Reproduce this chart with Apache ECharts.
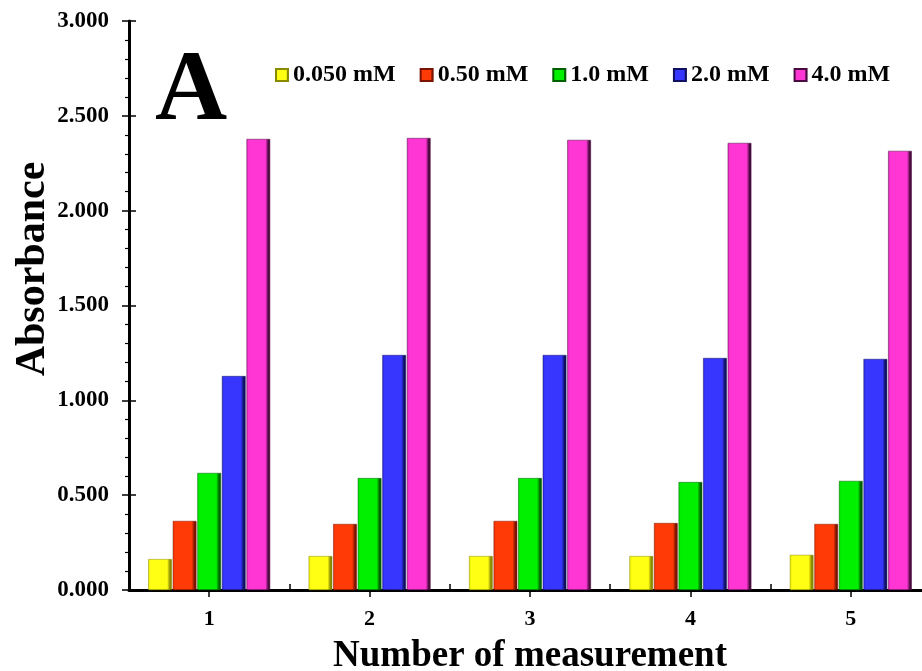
<!DOCTYPE html>
<html>
<head>
<meta charset="utf-8">
<script src="https://cdn.jsdelivr.net/npm/echarts@6/dist/echarts.min.js"></script>
<style>
html,body{margin:0;padding:0;background:#fff;}
#chart{width:922px;height:671px;}
</style>
</head>
<body>
<div id="chart"></div>
<script>
// ---- data ----
var categories = ['1', '2', '3', '4', '5'];
var seriesNames = ['0.050 mM', '0.50 mM', '1.0 mM', '2.0 mM', '4.0 mM'];
var conc0050 = [0.163, 0.179, 0.179, 0.179, 0.185];
var conc050  = [0.364, 0.348, 0.364, 0.353, 0.348];
var conc10   = [0.617, 0.590, 0.590, 0.569, 0.575];
var conc20   = [1.128, 1.239, 1.239, 1.223, 1.218];
var conc40   = [2.378, 2.383, 2.373, 2.357, 2.315];
var seriesValues = [conc0050, conc050, conc10, conc20, conc40];
var yTicks = [0, 0.5, 1.0, 1.5, 2.0, 2.5, 3.0];

// ---- styles ----
var baseColors = ['#ffff14', '#ff3a06', '#00f000', '#3636ff', '#ff36d4'];
var darkColors = ['#8a8a00', '#7a1400', '#006000', '#101060', '#4a0a40'];
var lightColors = ['#e8e800', '#e83000', '#00d800', '#2a2ae0', '#e02cbc'];
var FONT = '"Liberation Serif", "Times New Roman", serif';

function grad(i) {
  return new echarts.graphic.LinearGradient(0, 0, 1, 0, [
    {offset: 0, color: lightColors[i]},
    {offset: 0.1, color: baseColors[i]},
    {offset: 0.8, color: baseColors[i]},
    {offset: 0.92, color: darkColors[i]},
    {offset: 1, color: darkColors[i]}
  ]);
}

var chart = echarts.init(document.getElementById('chart'), null, {renderer: 'canvas'});

var series = seriesNames.map(function (name, i) {
  return {
    name: name,
    type: 'bar',
    xAxisIndex: 0,
    yAxisIndex: 0,
    data: seriesValues[i],
    barGap: '4%',
    barCategoryGap: '24%',
    itemStyle: {color: grad(i), borderColor: darkColors[i], borderWidth: 0.5},
    emphasis: {disabled: true}
  };
});

var option = {
  animation: false,
  backgroundColor: '#ffffff',
  title: {
    text: 'A',
    left: 155,
    top: 43,
    padding: 0,
    textStyle: {fontFamily: FONT, fontWeight: 'bold', fontSize: 100, color: '#000'}
  },
  legend: {
    data: seriesNames,
    left: 275,
    top: 63,
    padding: 0,
    itemWidth: 12,
    itemHeight: 12,
    itemGap: 24,
    icon: 'rect',
    textStyle: {fontFamily: FONT, fontWeight: 'bold', fontSize: 24, color: '#000'},
    selectedMode: false
  },
  graphic: [{
    type: 'text',
    x: 12,
    y: 269,
    rotation: Math.PI / 2,
    style: {
      text: 'Absorbance',
      fontFamily: FONT,
      fontWeight: 'bold',
      fontSize: 42,
      fill: '#000',
      align: 'center',
      verticalAlign: 'top'
    }
  }],
  grid: {left: 129, top: 21, bottom: 81, right: -9, containLabel: false, outerBoundsMode: 'none'},
  xAxis: [{
    type: 'category',
    data: categories,
    position: 'bottom',
    axisLine: {show: true, lineStyle: {color: '#000', width: 3}},
    axisTick: {show: true, alignWithLabel: true, inside: false, length: 7, lineStyle: {color: '#000', width: 1.5}},
    axisLabel: {fontFamily: FONT, fontWeight: 'bold', fontSize: 22, color: '#000', margin: 18},
    name: 'Number of measurement',
    nameLocation: 'middle',
    nameGap: 48,
    nameTextStyle: {fontFamily: FONT, fontWeight: 'bold', fontSize: 37, color: '#000'},
    splitLine: {show: false}
  }, {
    type: 'category',
    data: categories,
    position: 'bottom',
    axisLine: {show: false},
    axisTick: {show: true, inside: true, length: 6, lineStyle: {color: '#000', width: 1.5}},
    axisLabel: {show: false},
    splitLine: {show: false}
  }],
  yAxis: [{
    type: 'value',
    min: yTicks[0],
    max: yTicks[yTicks.length - 1],
    interval: 0.5,
    position: 'left',
    axisLine: {show: true, lineStyle: {color: '#000', width: 3}},
    axisTick: {show: true, inside: false, length: 7, lineStyle: {color: '#000', width: 1.5}},
    minorTick: {show: true, splitNumber: 5, length: 4, lineStyle: {color: '#000', width: 1.2}},
    axisLabel: {fontFamily: FONT, fontWeight: 'bold', fontSize: 23, color: '#000', margin: 20,
      formatter: function (v) { return v.toFixed(3); }},
    splitLine: {show: false}
  }, {
    type: 'value',
    min: yTicks[0],
    max: yTicks[yTicks.length - 1],
    interval: 0.5,
    position: 'left',
    axisLine: {show: false},
    axisTick: {show: true, inside: true, length: 7, lineStyle: {color: '#000', width: 1.5}},
    axisLabel: {show: false},
    splitLine: {show: false}
  }],
  series: series
};
chart.setOption(option);
</script>
</body>
</html>
